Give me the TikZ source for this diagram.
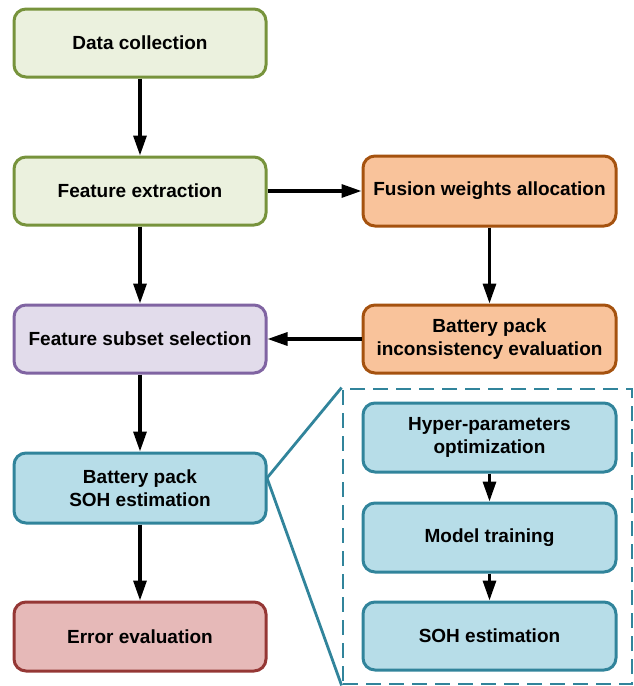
\documentclass[tikz,border=0pt]{standalone}
\usepackage{fontspec}
\setmainfont{Liberation Sans}
\usetikzlibrary{arrows.meta}
\definecolor{gfill}{HTML}{EBF1DE}\definecolor{gline}{HTML}{77933C}
\definecolor{ofill}{HTML}{F9C39B}\definecolor{oline}{HTML}{A5520F}
\definecolor{pfill}{HTML}{E2DCEB}\definecolor{pline}{HTML}{8064A2}
\definecolor{bfill}{HTML}{B7DDE8}\definecolor{bline}{HTML}{31849B}
\definecolor{rfill}{HTML}{E6B9B8}\definecolor{rline}{HTML}{953735}
\begin{document}
\begin{tikzpicture}[x=1pt,y=-1pt,
  box/.style={draw, line width=3pt, rounded corners=12pt, minimum width=252pt, minimum height=68pt,
    align=center, font=\fontsize{19}{22.7}\selectfont\bfseries, inner sep=0pt},
  gbox/.style={box, fill=gfill, draw=gline},
  obox/.style={box, fill=ofill, draw=oline},
  pbox/.style={box, fill=pfill, draw=pline},
  bbox/.style={box, fill=bfill, draw=bline},
  rbox/.style={box, fill=rfill, draw=rline},
  arr/.style={-{Triangle[length=20pt,width=13pt]}, line width=3.2pt, black},
  zoomline/.style={draw=bline, line width=2.8pt}]
\useasboundingbox (0,0) rectangle (634,686);
\node[gbox] (dc) at (140,43) {Data collection};
\node[gbox] (fe) at (140,191) {Feature extraction};
\node[pbox] (fss) at (140,339) {Feature subset selection};
\node[bbox, minimum height=70pt] (soh) at (140,488) {Battery pack\\SOH estimation};
\node[rbox, minimum height=69pt] (err) at (140,636.5) {Error evaluation};
\node[obox, minimum width=253pt, minimum height=70pt] (fwa) at (489.5,191) {Fusion weights allocation};
\node[obox, minimum width=253pt] (bpi) at (489.5,339) {Battery pack\\inconsistency evaluation};
\node[draw=bline, line width=2.8pt, dash pattern=on 15pt off 8pt, minimum width=289pt, minimum height=295pt, inner sep=0pt] (dbox) at (487.5,536.5) {};
\node[bbox, minimum width=253pt, minimum height=69pt] (hyp) at (489.5,437.5) {Hyper-parameters\\optimization};
\node[bbox, minimum width=253pt, minimum height=69pt] (mt) at (489.5,537.5) {Model training};
\node[bbox, minimum width=253pt, minimum height=68pt] (se) at (489.5,636) {SOH estimation};
\coordinate (apex) at (267,478);
\draw[zoomline] (dbox.north west) -- (apex) -- (dbox.south west);
\draw[arr] (dc) -- (fe);
\draw[arr] (fe) -- (fss);
\draw[arr] (fss) -- (soh);
\draw[arr] (soh) -- (err);
\draw[arr] (fe) -- (fwa);
\draw[arr] (fwa) -- (bpi);
\draw[arr] (bpi) -- (fss);
\draw[arr] (hyp) -- (mt);
\draw[arr] (mt) -- (se);
\end{tikzpicture}
\end{document}
